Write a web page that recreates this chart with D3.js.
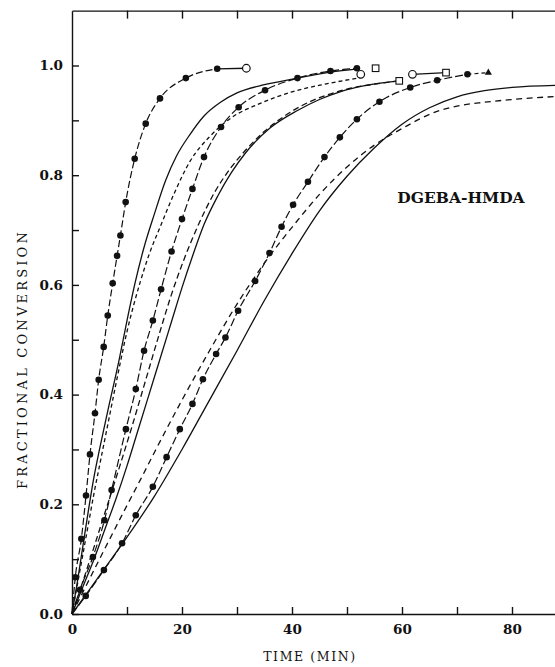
<!DOCTYPE html>
<html>
<head>
<meta charset="utf-8">
<title>DGEBA-HMDA</title>
<script src="https://cdn.jsdelivr.net/npm/d3@7"></script>
<style>
  body { margin: 0; background: #fff; }
  svg { display: block; }
</style>
</head>
<body>
<script>
// experimental points (time in min, fractional conversion)
var expA = [[0,0],[0.6,0.067],[1.7,0.137],[2.55,0.216],[3.27,0.291],[4.18,0.366],[4.85,0.427],[5.76,0.487],[6.5,0.544],[7.4,0.603],[8.2,0.653],[8.8,0.69],[9.76,0.751],[11.4,0.83],[13.4,0.894],[16,0.94],[20.7,0.977],[26.4,0.994]];
var expD = [[0,0],[1.45,0.044],[3.8,0.104],[5.9,0.171],[7.2,0.226],[9.8,0.337],[11.6,0.41],[13.1,0.48],[14.7,0.535],[16.2,0.592],[18.1,0.661],[20,0.72],[21.9,0.775],[24,0.833],[27.1,0.888],[30.3,0.924],[35.1,0.955],[41,0.977],[47,0.99],[51.8,0.995]];
var expH = [[0,0],[2.5,0.033],[5.8,0.08],[9.1,0.129],[11.6,0.18],[14.7,0.232],[17.2,0.286],[19.6,0.337],[21.9,0.383],[23.8,0.428],[26.2,0.474],[27.9,0.504],[30.2,0.553],[33.3,0.607],[35.9,0.658],[38.1,0.706],[40.2,0.746],[42.9,0.788],[45.9,0.833],[48.7,0.869],[51.8,0.902],[55.9,0.934],[61.5,0.96],[66.4,0.973],[71.9,0.984]];

// model curves
var solidB = [[0,0],[1,0.06],[2,0.125],[3,0.19],[4,0.25],[5,0.3],[6.5,0.37],[8.5,0.46],[10,0.535],[11.5,0.605],[13,0.665],[15,0.73],[17,0.79],[19,0.835],[21.5,0.875],[24,0.908],[27,0.933],[30,0.95],[35,0.965],[41,0.977],[47,0.988],[52,0.994]];
var dashC = [[0,0],[1,0.055],[2,0.11],[3,0.165],[4,0.22],[5,0.27],[6.5,0.345],[8,0.42],[10,0.515],[12.4,0.605],[14,0.655],[16,0.705],[18.5,0.765],[21.5,0.826],[25,0.87],[29,0.905],[34,0.93],[40,0.952],[46,0.966],[52.5,0.978]];
var dashE = [[0,0],[2,0.06],[4,0.122],[6,0.185],[8.7,0.27],[11,0.345],[13.5,0.43],[16,0.515],[18,0.58],[20.5,0.65],[23,0.71],[26,0.77],[29,0.815],[31.5,0.845],[35,0.88],[38.5,0.907],[42,0.928],[46,0.945],[50,0.957],[55,0.966],[59.5,0.972]];
var solidF = [[0,0],[2,0.05],[4,0.1],[6,0.155],[8,0.21],[10,0.27],[12,0.335],[14,0.4],[16,0.465],[18,0.53],[20,0.595],[22,0.655],[24,0.71],[26.5,0.762],[29,0.805],[31.5,0.84],[36,0.886],[41,0.918],[45,0.938],[49,0.953],[53,0.963],[59.5,0.972]];
var dashG = [[0,0],[5,0.1],[10,0.198],[12.4,0.244],[15,0.295],[20,0.39],[25,0.48],[30,0.565],[35,0.64],[40,0.705],[45,0.765],[50,0.815],[55,0.855],[60,0.885],[66,0.915],[70,0.926],[75,0.933],[80,0.938],[89,0.944]];
var solidI = [[0,0],[5,0.07],[10,0.14],[15,0.215],[20,0.3],[25,0.39],[30,0.48],[35,0.572],[40,0.657],[45,0.735],[50,0.798],[55,0.85],[60,0.893],[65,0.923],[70,0.943],[75,0.954],[80,0.96],[89,0.964]];

// end markers
var openCircles = [[31.7,0.995],[52.5,0.984],[61.9,0.984]];
var openSquares = [[55.2,0.995],[59.5,0.972],[68,0.987]];
var triangles = [[75.7,0.987],[88.5,0.963]];
var tailA = [[26.4,0.994],[31.7,0.995]];
var tailH = [[71.9,0.984],[75.7,0.987]];
var linkCS = [[61.9,0.984],[68,0.987]];

var xMajor = [0,20,40,60,80];
var xMinor = [0,10,20,30,40,50,60,70,80];
var yMinor = [0,0.1,0.2,0.3,0.4,0.5,0.6,0.7,0.8,0.9,1.0];

var width = 555, height = 667;
var svg = d3.select("body").append("svg")
  .attr("width", width).attr("height", height);

var x = d3.scaleLinear().domain([0, 90]).range([72, 567]);
var y = d3.scaleLinear().domain([0, 1.1]).range([614, 10.65]);

var serif = "'DejaVu Serif', 'Liberation Serif', serif";
var ink = "#111";

// axes
var axL = svg.append("g").attr("transform", "translate(72,0)")
  .call(d3.axisLeft(y).tickValues(yMinor).tickSize(-7).tickSizeOuter(0).tickPadding(9)
    .tickFormat(function(d){ return Math.round(d*10) % 2 === 0 ? d.toFixed(1) : ""; }));
var axB = svg.append("g").attr("transform", "translate(0,614)")
  .call(d3.axisBottom(x).tickValues(xMinor).tickSize(-7).tickSizeOuter(0).tickPadding(10)
    .tickFormat(function(d){ return xMajor.indexOf(d) >= 0 ? d : ""; }));
var axT = svg.append("g").attr("transform", "translate(0," + y(1.1) + ")")
  .call(d3.axisTop(x).tickValues(xMinor.slice(1)).tickSize(-8).tickSizeOuter(0).tickFormat(""));

[axL, axB, axT].forEach(function(a){
  a.selectAll("path,line").attr("stroke", ink).attr("stroke-width", 1.4);
  a.selectAll("text").attr("fill", ink).attr("font-family", serif)
    .attr("font-size", 13.5).attr("font-weight", "bold");
});

var line = d3.line()
  .x(function(d){ return x(d[0]); })
  .y(function(d){ return y(d[1]); })
  .curve(d3.curveMonotoneX);
var straight = d3.line()
  .x(function(d){ return x(d[0]); })
  .y(function(d){ return y(d[1]); });

var plot = svg.append("g");

function drawCurve(data, dash, w) {
  plot.append("path").datum(data)
    .attr("d", line)
    .attr("fill", "none")
    .attr("stroke", ink)
    .attr("stroke-width", w || 1.3)
    .attr("stroke-dasharray", dash);
}

drawCurve(solidB, null);
drawCurve(dashC, "4,3");
drawCurve(dashE, "6,3.5");
drawCurve(solidF, null);
drawCurve(dashG, "6,4.5");
drawCurve(solidI, null);

drawCurve(expA, "7,3", 1.2);
drawCurve(expD, "8,3", 1.2);
drawCurve(expH, "8,3", 1.2);

plot.append("path").datum(tailA).attr("d", straight)
  .attr("fill", "none").attr("stroke", ink).attr("stroke-width", 1.3);
plot.append("path").datum(tailH).attr("d", straight)
  .attr("fill", "none").attr("stroke", ink).attr("stroke-width", 1.2).attr("stroke-dasharray", "4,3");
plot.append("path").datum(linkCS).attr("d", straight)
  .attr("fill", "none").attr("stroke", ink).attr("stroke-width", 1.3);

[expA, expD, expH].forEach(function(s){
  plot.selectAll(null).data(s.slice(1)).enter().append("circle")
    .attr("cx", function(d){ return x(d[0]); })
    .attr("cy", function(d){ return y(d[1]); })
    .attr("r", 3.3).attr("fill", ink);
});

plot.selectAll(null).data(openCircles).enter().append("circle")
  .attr("cx", function(d){ return x(d[0]); })
  .attr("cy", function(d){ return y(d[1]); })
  .attr("r", 3.8).attr("fill", "#fff").attr("stroke", ink).attr("stroke-width", 1.2);

plot.selectAll(null).data(openSquares).enter().append("rect")
  .attr("x", function(d){ return x(d[0]) - 3.3; })
  .attr("y", function(d){ return y(d[1]) - 3.3; })
  .attr("width", 6.6).attr("height", 6.6)
  .attr("fill", "#fff").attr("stroke", ink).attr("stroke-width", 1.1);

plot.selectAll(null).data(triangles).enter().append("path")
  .attr("d", d3.symbol().type(d3.symbolTriangle).size(22))
  .attr("transform", function(d){ return "translate(" + x(d[0]) + "," + y(d[1]) + ")"; })
  .attr("fill", ink);

// labels
svg.append("text")
  .attr("x", 461).attr("y", 203)
  .attr("text-anchor", "middle")
  .attr("font-family", serif).attr("font-size", 15.5).attr("font-weight", "bold")
  .attr("fill", ink)
  .text("DGEBA-HMDA");

svg.append("text")
  .attr("x", 310).attr("y", 661)
  .attr("text-anchor", "middle")
  .attr("font-family", serif).attr("font-size", 12.5)
  .attr("letter-spacing", 1.6)
  .attr("fill", ink)
  .text("TIME (MIN)");

svg.append("text")
  .attr("transform", "translate(27,359) rotate(-90)")
  .attr("text-anchor", "middle")
  .attr("font-family", serif).attr("font-size", 13)
  .attr("letter-spacing", 3.2)
  .attr("fill", ink)
  .text("FRACTIONAL CONVERSION");
</script>
</body>
</html>
